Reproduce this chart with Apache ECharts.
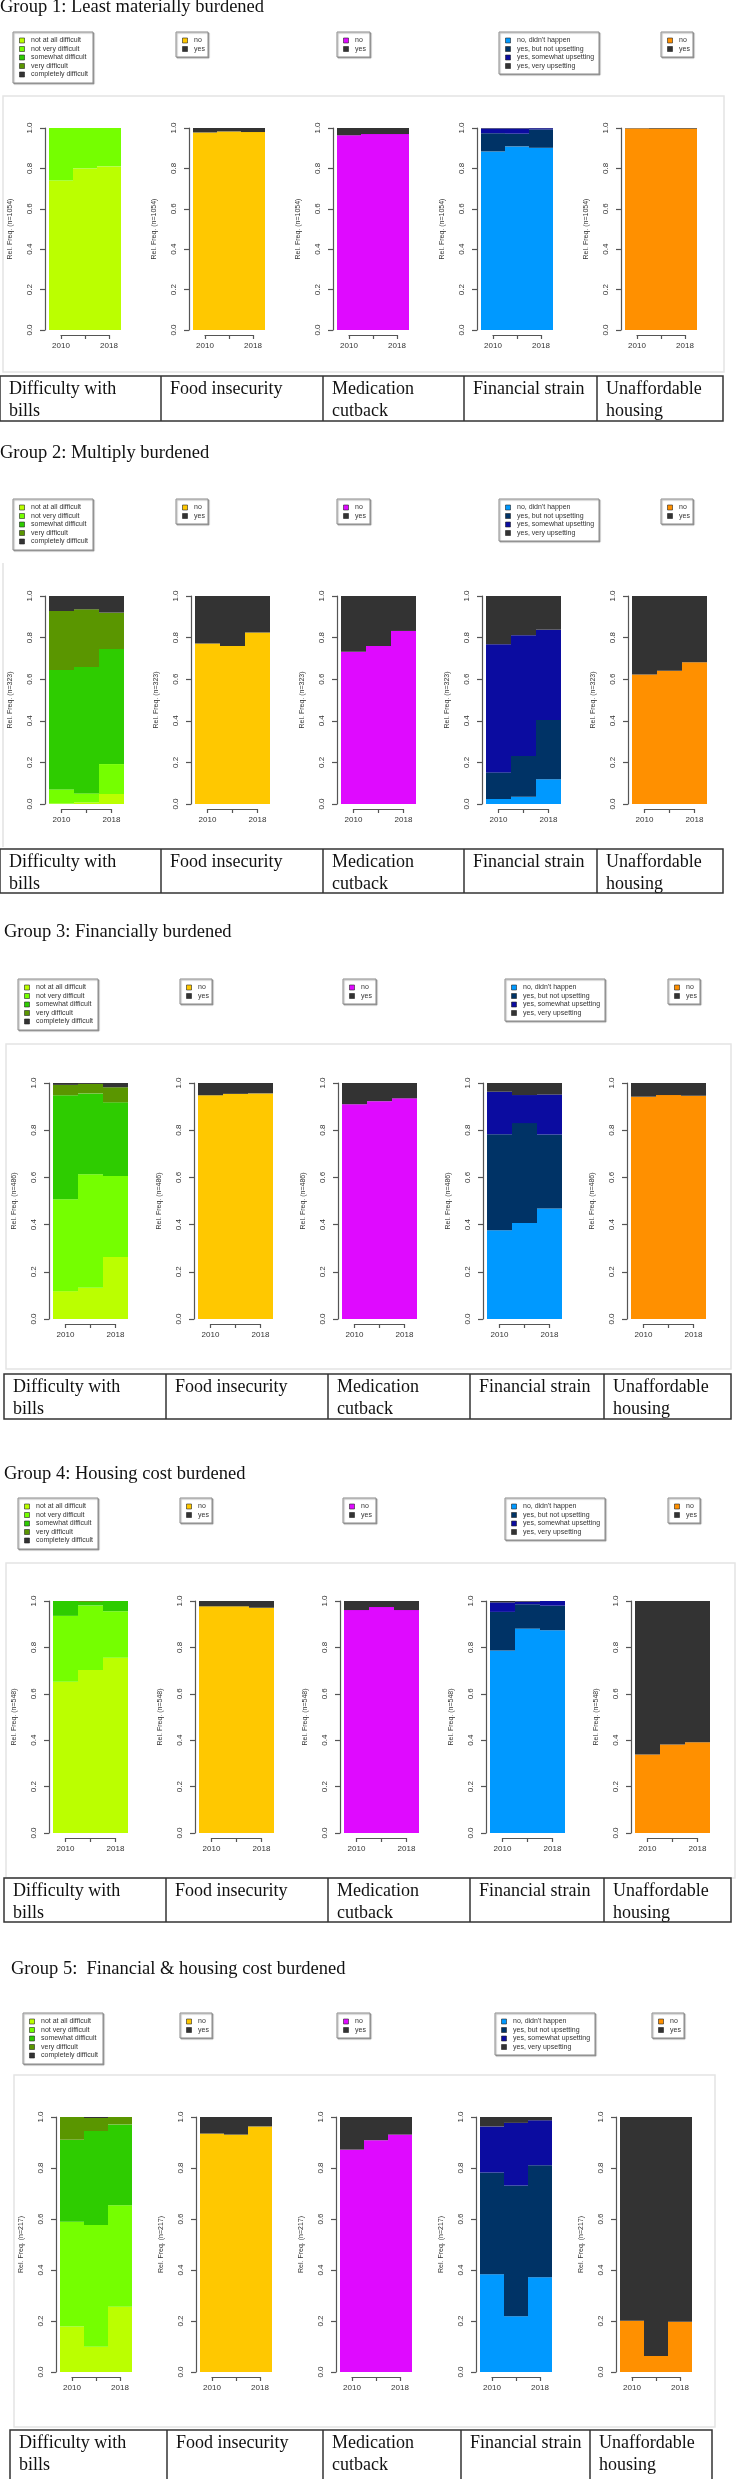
<!DOCTYPE html>
<html>
<head>
<meta charset="utf-8">
<script src="https://cdn.jsdelivr.net/npm/echarts@6/dist/echarts.min.js"></script>
<style>
    html, body { margin: 0; padding: 0; background: #fff; }
    #chart { width: 738px; height: 2479px; }
</style>
</head>
<body>
<div id="chart"></div>
<script>
var years = ['2010', '2014', '2018'];
var groupTitles = [
    'Group 1: Least materially burdened',
    'Group 2: Multiply burdened',
    'Group 3: Financially burdened',
    'Group 4: Housing cost burdened',
    'Group 5:  Financial & housing cost burdened'
];
var groupN = [1054, 323, 486, 548, 217];
var panelTitles = [['Difficulty with', 'bills'], ['Food insecurity'], ['Medication', 'cutback'], ['Financial strain'], ['Unaffordable', 'housing']];
var billLevels = ['not at all difficult', 'not very difficult', 'somewhat difficult', 'very difficult', 'completely difficult'];
var strainLevels = ['no, didn\'t happen', 'yes, but not upsetting', 'yes, somewhat upsetting', 'yes, very upsetting'];
var yesNo = ['no', 'yes'];

// shares: one row per answer, one column per year
var g1Bills = [[0.74, 0.80, 0.81], [0.26, 0.20, 0.19], [0, 0, 0], [0, 0, 0], [0, 0, 0]];
var g1Food = [[0.978, 0.983, 0.980], [0.022, 0.017, 0.020]];
var g1Med = [[0.964, 0.970, 0.970], [0.036, 0.030, 0.030]];
var g1Strain = [[0.884, 0.909, 0.902], [0.090, 0.063, 0.091], [0.024, 0.026, 0.006], [0.002, 0.002, 0.001]];
var g1House = [[0.998, 0.997, 0.997], [0.002, 0.003, 0.003]];

var g2Bills = [[0.002, 0.008, 0.048], [0.068, 0.043, 0.144], [0.574, 0.608, 0.553], [0.284, 0.277, 0.175], [0.072, 0.064, 0.080]];
var g2Food = [[0.772, 0.760, 0.825], [0.228, 0.240, 0.175]];
var g2Med = [[0.732, 0.760, 0.832], [0.268, 0.240, 0.168]];
var g2Strain = [[0.024, 0.035, 0.119], [0.128, 0.196, 0.285], [0.616, 0.580, 0.434], [0.232, 0.189, 0.162]];
var g2House = [[0.622, 0.641, 0.681], [0.378, 0.359, 0.319]];

var g3Bills = [[0.118, 0.132, 0.263], [0.389, 0.481, 0.343], [0.441, 0.343, 0.312], [0.044, 0.040, 0.064], [0.008, 0.004, 0.018]];
var g3Food = [[0.948, 0.954, 0.956], [0.052, 0.046, 0.044]];
var g3Med = [[0.910, 0.923, 0.935], [0.090, 0.077, 0.065]];
var g3Strain = [[0.376, 0.407, 0.468], [0.407, 0.423, 0.314], [0.180, 0.119, 0.169], [0.037, 0.051, 0.049]];
var g3House = [[0.942, 0.949, 0.946], [0.058, 0.051, 0.054]];

var g4Bills = [[0.652, 0.703, 0.755], [0.284, 0.278, 0.201], [0.064, 0.015, 0.044], [0, 0.004, 0], [0, 0, 0]];
var g4Food = [[0.977, 0.977, 0.971], [0.023, 0.023, 0.029]];
var g4Med = [[0.961, 0.974, 0.961], [0.039, 0.026, 0.039]];
var g4Strain = [[0.787, 0.881, 0.874], [0.166, 0.105, 0.106], [0.041, 0.011, 0.020], [0.006, 0.003, 0.000]];
var g4House = [[0.338, 0.381, 0.391], [0.662, 0.619, 0.609]];

var g5Bills = [[0.178, 0.099, 0.256], [0.411, 0.477, 0.398], [0.322, 0.369, 0.317], [0.089, 0.051, 0.029], [0, 0.004, 0]];
var g5Food = [[0.935, 0.931, 0.963], [0.065, 0.069, 0.037]];
var g5Med = [[0.872, 0.909, 0.931], [0.128, 0.091, 0.069]];
var g5Strain = [[0.383, 0.219, 0.372], [0.399, 0.512, 0.439], [0.181, 0.246, 0.176], [0.037, 0.023, 0.013]];
var g5House = [[0.201, 0.063, 0.197], [0.799, 0.937, 0.803]];

var groupData = [
    [g1Bills, g1Food, g1Med, g1Strain, g1House],
    [g2Bills, g2Food, g2Med, g2Strain, g2House],
    [g3Bills, g3Food, g3Med, g3Strain, g3House],
    [g4Bills, g4Food, g4Med, g4Strain, g4House],
    [g5Bills, g5Food, g5Med, g5Strain, g5House]
];
var panelLevels = [billLevels, yesNo, yesNo, strainLevels, yesNo];

//颜色
var panelColors = [
    ['#bbff00', '#75ff00', '#2ecc00', '#5a9600', '#333333'],
    ['#ffc800', '#333333'],
    ['#df0aff', '#333333'],
    ['#0099ff', '#003366', '#0b0ca0', '#333333'],
    ['#ff9000', '#333333']
];
var legendW = [80, 32, 33, 100, 32];
var legendH = [51, 25, 25, 42, 25];

// where each group sits on the page (px)
var layout = [
    {tx: 0, ty: -2, legX: [13, 176, 337, 499, 661], legY: 32, box: [3, 96, 724, 372], top: 128, bottom: 330, bars0: 49, step: 144, barW: 73, table: [0, 376, 723, 421], cols: [161, 323, 464, 597]},
    {tx: 0, ty: 444, legX: [13, 176, 337, 499, 661], legY: 499, box: [3, 563, 724, 847], leftOnly: true, top: 596, bottom: 804, bars0: 49, step: 145.75, barW: 74, table: [0, 849, 723, 893], cols: [161, 323, 464, 597]},
    {tx: 4, ty: 923, legX: [18, 180, 343, 505, 668], legY: 979, box: [6, 1044, 731, 1369], top: 1083, bottom: 1319, bars0: 53, step: 144.5, barW: 74, table: [4, 1374, 731, 1419], cols: [166, 328, 470, 604]},
    {tx: 4, ty: 1465, legX: [18, 180, 343, 505, 668], legY: 1498, box: [6, 1563, 735, 1878], top: 1601, bottom: 1833, bars0: 53, step: 145.5, barW: 74, table: [4, 1878, 731, 1922], cols: [166, 328, 470, 604]},
    {tx: 11, ty: 1960, legX: [23, 180, 337, 495, 652], legY: 2013, box: [14, 2075, 715, 2427], top: 2117, bottom: 2372, bars0: 60, step: 140, barW: 71, table: [10, 2430, 712, 2484], cols: [167, 323, 461, 590]}
];

var serif = '"Liberation Serif", "Times New Roman", serif';
var sans = '"Liberation Sans", Arial, sans-serif';
var axisColor = '#555';

var grids = [], xAxes = [], yAxes = [], series = [], graphics = [];

function addText(x, y, text, size, family, color, vAlign) {
    graphics.push({
        type: 'text', x: x, y: y,
        style: {
            text: text, fontSize: size, fontFamily: family, font: size + 'px ' + family,
            fill: color, verticalAlign: vAlign, textVerticalAlign: vAlign
        }
    });
}

layout.forEach(function (L, g) {
    // 组标题
    addText(L.tx, L.ty, groupTitles[g], 18.5, serif, '#111', 'top');

    // light frame round the plots
    var B = L.box;
    if (L.leftOnly) {
        graphics.push({type: 'line', shape: {x1: B[0], y1: B[1], x2: B[0], y2: B[3]}, style: {stroke: '#e2e2e2', lineWidth: 1.5}});
    } else {
        graphics.push({type: 'rect', shape: {x: B[0], y: B[1], width: B[2] - B[0], height: B[3] - B[1]}, style: {fill: 'none', stroke: '#e4e4e4', lineWidth: 1.5}});
    }

    // whole pixels per year so the three bars meet without seams
    var bw = 3 * Math.round(L.barW / 3);

    for (var p = 0; p < 5; p++) {
        var left = Math.round(L.bars0 + L.step * p);
        var h = L.bottom - L.top;

        // bars
        var idx = grids.length;
        grids.push({left: left, top: L.top, width: bw, height: h, outerBoundsMode: 'none'});
        xAxes.push({gridIndex: idx, type: 'category', data: years, show: false, boundaryGap: true});
        yAxes.push({
            gridIndex: idx, type: 'value', min: 0, max: 1, interval: 0.2, offset: 4,
            name: 'Rel. Freq. (n=' + groupN[g] + ')', nameLocation: 'middle', nameGap: 31, nameRotate: 90,
            nameTextStyle: {fontSize: 7, color: '#333', fontFamily: sans},
            axisLine: {show: true, lineStyle: {color: axisColor, width: 1.2}},
            axisTick: {show: true, length: 5, lineStyle: {color: axisColor, width: 1.2}},
            axisLabel: {rotate: 90, margin: 11, fontSize: 8, color: '#333', fontFamily: sans, formatter: function (v) { return v.toFixed(1); }},
            splitLine: {show: false}
        });
        var shares = groupData[g][p];
        panelLevels[p].forEach(function (lv, k) {
            series.push({
                type: 'bar', name: lv, stack: 's' + idx,
                xAxisIndex: idx, yAxisIndex: idx,
                data: shares[k],
                barCategoryGap: '0%',
                itemStyle: {color: panelColors[p][k]},
                silent: true
            });
        });

        // R style x axis: line only between first and last tick
        var ai = grids.length;
        grids.push({left: left + bw / 6, top: L.top, width: bw * 2 / 3, height: h, outerBoundsMode: 'none'});
        xAxes.push({
            gridIndex: ai, type: 'category', data: years, boundaryGap: false, offset: 5,
            axisLine: {show: true, onZero: false, lineStyle: {color: axisColor, width: 1.2}},
            axisTick: {show: true, interval: 0, length: 4, lineStyle: {color: axisColor, width: 1.2}},
            axisLabel: {interval: function (i) { return i !== 1; }, margin: 7, fontSize: 8, color: '#333', fontFamily: sans},
            splitLine: {show: false}
        });
        yAxes.push({gridIndex: ai, type: 'value', show: false, min: 0, max: 1});

        // legend box
        var lx = L.legX[p], ly = L.legY;
        graphics.push({
            type: 'rect', shape: {x: lx, y: ly, width: legendW[p], height: legendH[p]},
            style: {fill: '#fff', stroke: '#8c8c8c', lineWidth: 1, shadowColor: 'rgba(0,0,0,0.3)', shadowOffsetX: 1, shadowOffsetY: 1, shadowBlur: 1}
        });
        panelLevels[p].forEach(function (lv, k) {
            var cy = ly + 8.5 + k * 8.5;
            graphics.push({type: 'rect', shape: {x: lx + 6.5, y: cy - 2.5, width: 5, height: 5}, style: {fill: panelColors[p][k], stroke: '#222', lineWidth: 0.6}});
            addText(lx + 18, cy, lv, 7, sans, '#333', 'middle');
        });
    }

    // 表格
    var T = L.table;
    graphics.push({type: 'rect', shape: {x: T[0], y: T[1], width: T[2] - T[0], height: T[3] - T[1]}, style: {fill: 'none', stroke: '#333', lineWidth: 1.5}});
    L.cols.forEach(function (c) {
        graphics.push({type: 'line', shape: {x1: c, y1: T[1], x2: c, y2: T[3]}, style: {stroke: '#333', lineWidth: 1.5}});
    });
    var starts = [T[0]].concat(L.cols);
    panelTitles.forEach(function (lines, p) {
        lines.forEach(function (t, r) {
            addText(starts[p] + 9, T[1] + 4 + r * 22, t, 18, serif, '#111', 'top');
        });
    });
});

var chart = echarts.init(document.getElementById('chart'));
chart.setOption({
    animation: false,
    backgroundColor: '#fff',
    textStyle: {fontFamily: sans},
    grid: grids,
    xAxis: xAxes,
    yAxis: yAxes,
    series: series,
    graphic: {elements: graphics}
});
</script>
</body>
</html>
